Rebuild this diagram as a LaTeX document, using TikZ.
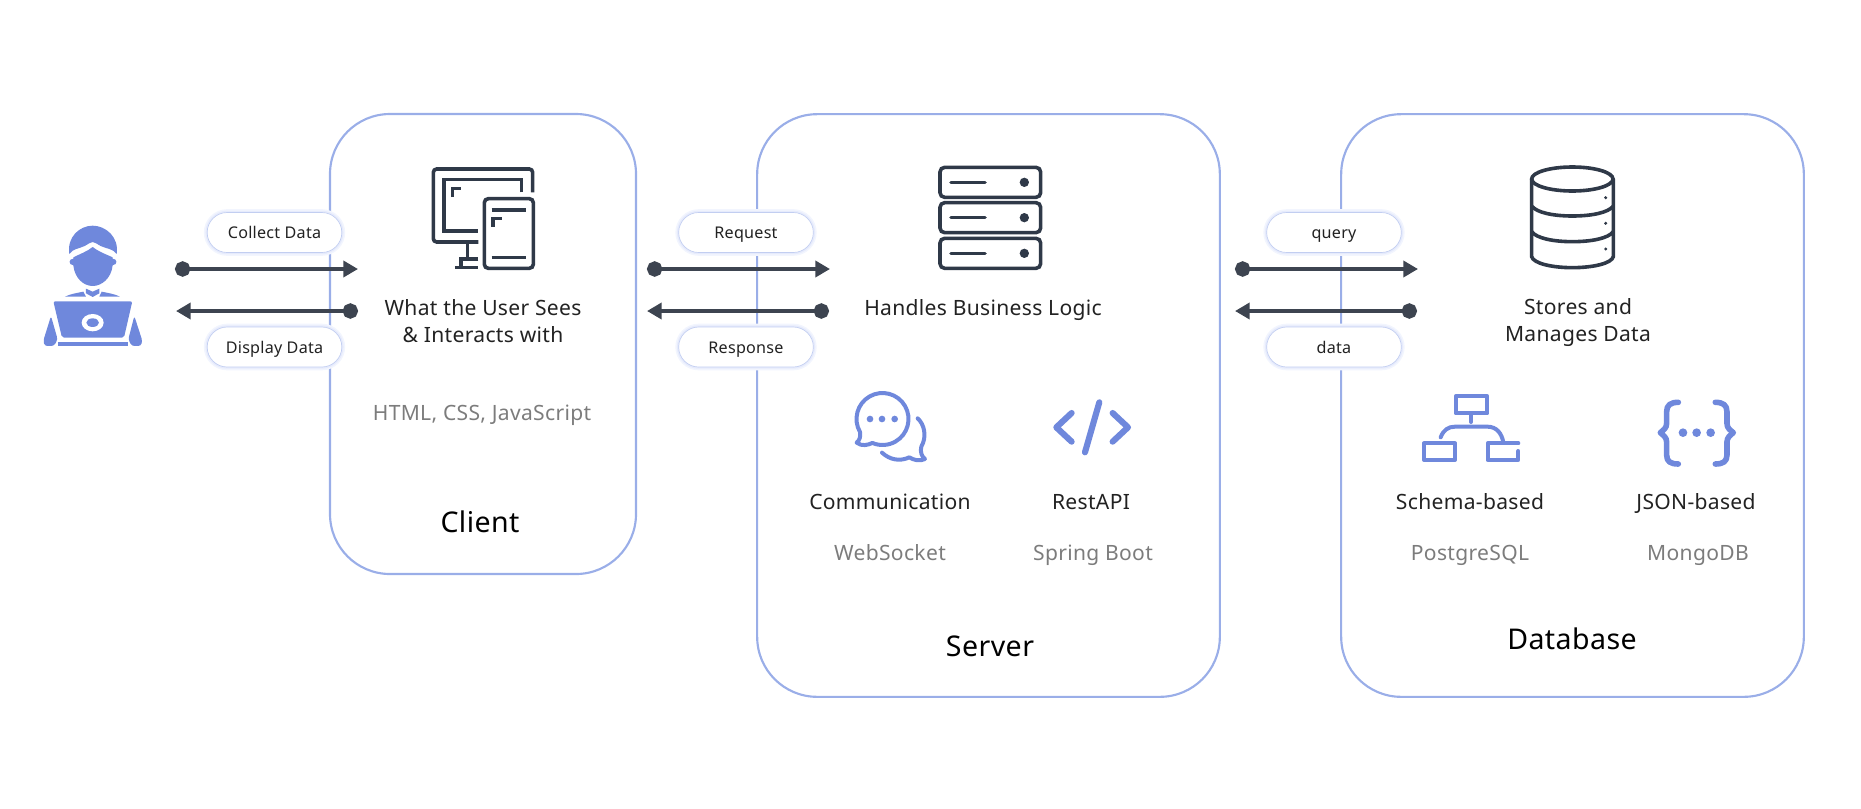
\documentclass[tikz,border=0pt]{standalone}
\usepackage{fontspec}
\setmainfont[LetterSpace=1.5]{Noto Sans}
\usetikzlibrary{arrows.meta}
\usetikzlibrary{positioning}
\definecolor{panelblue}{HTML}{9AAEE8}
\definecolor{iconblue}{HTML}{6F88DC}
\definecolor{icondark}{HTML}{2F3948}
\definecolor{flowdark}{HTML}{3D4450}
\definecolor{softgray}{HTML}{7C7C7C}
\definecolor{inktext}{HTML}{222222}
\definecolor{pillglow}{HTML}{E6EBFC}
\definecolor{pillhalo}{HTML}{F2F5FE}
\begin{document}
\begin{tikzpicture}[x=0.75pt,y=-0.75pt,font=\fontsize{15.8}{20.6}\selectfont,text=inktext]
  \tikzset{panel/.style={rectangle, rounded corners=45pt, draw=panelblue, line width=1.6pt, inner sep=0pt}}
  \tikzset{pill/.style={rectangle, rounded corners=15pt, draw=panelblue!60, line width=0.5pt, fill=white,
      minimum width=101pt, minimum height=30pt, inner sep=0pt, font=\fontsize{12.1}{15}\selectfont,
      text height=10.7pt, text depth=1.5pt,
      preaction={draw=pillhalo, line width=5pt},
      preaction={draw=pillglow, line width=2.6pt}}}
  \tikzset{flow/.style={{Circle[length=11.5pt,width=11.5pt]}-{Triangle[length=11pt,width=12pt]}, draw=flowdark, line width=3.4pt, color=flowdark}}
  \tikzset{say/.style={align=center, inner sep=0pt, anchor=base}}
  \tikzset{lines/.style={align=center, inner sep=0pt}}
  \tikzset{tech/.style={say, text=softgray}}
  \tikzset{title/.style={say, font=\fontsize{21.4}{24}\selectfont, text=black}}
  \tikzset{darkicon/.style={draw=icondark, line width=2.7pt, line cap=round}}
  \tikzset{blueicon/.style={draw=iconblue, line width=3pt, line cap=round, line join=round}}
  \useasboundingbox (0,0) rectangle (1861,808);

  % panels
  \node[panel, minimum width=229.5pt, minimum height=345pt] (client) at (483,344) {};
  \node[panel, minimum width=347pt, minimum height=437pt] (server) at (988.5,405.5) {};
  \node[panel, minimum width=347pt, minimum height=437pt] (database) at (1572.5,405.5) {};

  % end points of the flows
  \coordinate (userout) at (175,269);
  \coordinate (clientin) at (358,269);
  \coordinate (clientout) at (358,311);
  \coordinate (userin) at (176,311);
  \coordinate (clientreq) at (647,269);
  \coordinate (serverin) at (830,269);
  \coordinate (serverout) at (829,311);
  \coordinate (clientres) at (647,311);
  \coordinate (serverq) at (1235,269);
  \coordinate (dbin) at (1418,269);
  \coordinate (dbout) at (1417,311);
  \coordinate (serverd) at (1235,311);

  % pills and flows
  \draw[flow] (userout) -- (clientin);
  \draw[flow] (clientout) -- (userin);
  \draw[flow] (clientreq) -- (serverin);
  \draw[flow] (serverout) -- (clientres);
  \draw[flow] (serverq) -- (dbin);
  \draw[flow] (dbout) -- (serverd);
  \node[pill] (collect) at (274.5,232.5) {Collect Data};
  \node[pill] (display) at (274.5,347) {Display Data};
  \node[pill] (request) at (746,232.5) {Request};
  \node[pill] (response) at (746,347) {Response};
  \node[pill] (query) at (1334,232.5) {query};
  \node[pill] (data) at (1334,347) {data};

  % client texts
  \node[lines] (sees) at (483,321) {What the User Sees\\\& Interacts with};
  \node[tech] (html) at (482,420) {HTML, CSS, JavaScript};
  \node[title] (clientname) at (480,532) {Client};

  % server texts
  \node[say] (logic) at (983,315) {Handles Business Logic};
  \node[say] (comm) at (890,509) {Communication};
  \node[say] (rest) at (1091,509) {RestAPI};
  \node[tech] (socket) at (890,560) {WebSocket};
  \node[tech] (spring) at (1093,560) {Spring Boot};
  \node[title] (servername) at (990,656) {Server};

  % database texts
  \node[lines] (stores) at (1578,322.5) {Stores and\\Manages Data};
  \node[say] (schema) at (1470,509) {Schema-based};
  \node[say] (json) at (1696,509) {JSON-based};
  \node[tech] (postgres) at (1470,560) {PostgreSQL};
  \node[tech] (mongo) at (1698,560) {MongoDB};
  \node[title] (dbname) at (1572,649) {Database};

  % user
  \begin{scope}[shift={(0,180)},scale=0.3333]
    \fill[iconblue] (208,222) .. controls (200,170) and (240,137) .. (278,137) .. controls (316,137) and (358,170) .. (350,222)
      .. controls (340,206) and (318,206) .. (302,198) .. controls (292,193) and (285,186) .. (278,186)
      .. controls (271,186) and (264,193) .. (254,198) .. controls (238,206) and (218,206) .. (208,222) -- cycle;
    \fill[iconblue] (220,232) .. controls (240,222) and (262,214) .. (278,201) .. controls (294,214) and (316,222) .. (338,232)
      -- (338,236) .. controls (352,236) and (354,254) .. (338,256) .. controls (334,295) and (305,318) .. (278,318)
      .. controls (251,318) and (224,295) .. (220,256) .. controls (204,254) and (206,236) .. (220,236) -- cycle;
    \fill[iconblue] (258,326) -- (278,335) -- (298,326) -- (298,340) -- (278,351) -- (258,340) -- cycle;
    \fill[iconblue] (195,350) .. controls (210,342) and (235,338) .. (250,335) -- (258,350) -- cycle;
    \fill[iconblue] (360,350) .. controls (345,342) and (320,338) .. (305,335) -- (298,350) -- cycle;
    \fill[iconblue, rounded corners=1.5pt] (160,364) -- (397,364) -- (372,473) -- (186,473) -- cycle;
    \fill[white] (278,428) ellipse [x radius=33, y radius=26];
    \fill[iconblue] (278,428) ellipse [x radius=19, y radius=13];
    \fill[iconblue] (175,487) rectangle (383,498);
    \fill[iconblue, rounded corners=2pt] (153,408) -- (173,478) -- (162,498) -- (134,498) -- (130,482) -- cycle;
    \fill[iconblue, rounded corners=2pt] (403,408) -- (385,478) -- (395,498) -- (423,498) -- (427,482) -- cycle;
  \end{scope}

  % monitor and tablet
  \begin{scope}[shift={(400,140)},scale=0.3333,darkicon,line cap=butt]
    \draw[rounded corners=2.5pt] (398,157) -- (398,87) -- (100,87) -- (100,306) -- (235,306);
    \draw (365,157) -- (365,119) -- (132,119) -- (132,273) -- (235,273);
    \draw (157,171) -- (157,145) -- (184,145);
    \draw (203,306) -- (203,357);
    \draw (235,357) -- (183,357) -- (183,383);
    \draw (165,383) -- (235,383);
    \draw[rounded corners=3pt] (253,176) rectangle (400,385);
    \draw (275,210) -- (378,210);
    \draw (275,352) -- (378,352);
    \draw (279,261) -- (279,235) -- (306,235);
  \end{scope}

  % server rack
  \begin{scope}[shift={(920,150)},scale=0.3333,darkicon]
    \foreach \rowy in {52,158,265} {
      \draw[rounded corners=3.5pt] (60,\rowy) rectangle (362,\rowy+90);
      \draw (93,\rowy+45) -- (195,\rowy+45);
      \fill[icondark] (313,\rowy+45) circle [radius=14];
    }
  \end{scope}

  % cylinder
  \begin{scope}[shift={(1510,150)},scale=0.3333,darkicon]
    \draw (187,87) ellipse [x radius=122, y radius=36];
    \draw (65,87) -- (65,320) .. controls (70,340) and (125,353) .. (187,353) .. controls (250,353) and (305,340) .. (310,320) -- (310,87);
    \draw (65,168) .. controls (80,188) and (130,198) .. (187,198) .. controls (245,198) and (295,188) .. (310,168);
    \draw (65,245) .. controls (80,265) and (130,275) .. (187,275) .. controls (245,275) and (295,265) .. (310,245);
    \foreach \doty in {143,220,297}
      \fill[icondark] (287,\doty) circle [radius=5];
  \end{scope}

  % chat bubbles
  \begin{scope}[shift={(830,380)},scale=0.3333,blueicon]
    \draw (90,156) arc [start angle=150, end angle=473, radius=78]
      .. controls (115,195) and (95,200) .. (80,188) .. controls (90,180) and (92,168) .. (90,156) -- cycle;
    \foreach \dotx in {120,156,194}
      \fill[iconblue, draw=none] (\dotx,117) circle [radius=10];
    \draw (263,115) .. controls (282,132) and (292,168) .. (274,200) .. controls (270,215) and (275,230) .. (285,237)
      .. controls (270,245) and (250,240) .. (238,232) .. controls (210,245) and (180,240) .. (156,218);
  \end{scope}

  % code tag
  \begin{scope}[shift={(830,380)},scale=0.3333,blueicon,line width=4.6pt]
    \draw (725,99) -- (679,142) -- (725,185);
    \draw (808,67) -- (765,217);
    \draw (848,99) -- (894,142) -- (848,185);
  \end{scope}

  % schema tree
  \begin{scope}[shift={(1400,380)},scale=0.3333,blueicon]
    \draw (167,49) rectangle (262,100);
    \draw (213,100) -- (213,126);
    \draw (122,172) .. controls (130,150) and (145,140) .. (165,140) -- (262,140) .. controls (290,140) and (305,160) .. (310,187);
    \draw (72,190) rectangle (165,240);
    \draw (355,190) -- (263,190) -- (263,240) -- (355,240) -- (355,213);
  \end{scope}

  % braces
  \begin{scope}[shift={(1400,380)},scale=0.3333,blueicon,line width=4.2pt]
    \draw (835,67) .. controls (812,67) and (800,75) .. (800,95) -- (800,130) .. controls (800,145) and (790,150) .. (781,158)
      .. controls (790,166) and (800,172) .. (800,186) -- (800,225) .. controls (800,245) and (812,252) .. (835,252);
    \draw (946,67) .. controls (969,67) and (981,75) .. (981,95) -- (981,130) .. controls (981,145) and (991,150) .. (1000,158)
      .. controls (991,166) and (981,172) .. (981,186) -- (981,225) .. controls (981,245) and (969,252) .. (946,252);
    \foreach \dotx in {849,890,932}
      \fill[iconblue, draw=none] (\dotx,158) circle [radius=13];
  \end{scope}
\end{tikzpicture}
\end{document}
